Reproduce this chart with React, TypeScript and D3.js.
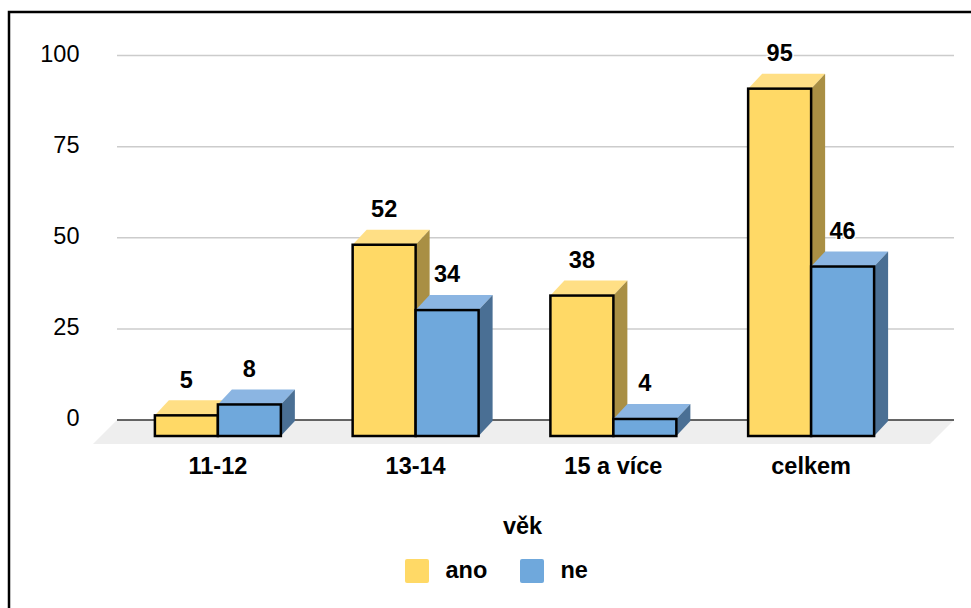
import * as d3 from "d3";

const categories = ["11-12", "13-14", "15 a více", "celkem"];
const seriesNames = ["ano", "ne"];
const anoValues = [5, 52, 38, 95];
const neValues = [8, 34, 4, 46];
const yTicks = [0, 25, 50, 75, 100];

const seriesValues = [anoValues, neValues];
const faceColors = ["#ffd966", "#6fa8dc"];
const topColors = ["#ffdf85", "#8bb5e2"];
const sideColors = ["#a98f44", "#4a6f94"];

const width = 971;
const height = 608;
const depthX = 14;
const depthY = 15;
const baseY = 436;
const fontSize = 23.5;
const font = "'Liberation Sans', Arial, sans-serif";

export default function App() {
  // gridlines sit on the back wall, bars on the front plane
  const yGrid = d3.scaleLinear().domain([0, 100]).range([420, 55.5]);
  const yBar = d3.scaleLinear().domain([0, 100]).range([433.5, 70.5]);

  const x0 = d3
    .scaleBand()
    .domain(categories)
    .range([119, 910])
    .paddingInner(0.363)
    .paddingOuter(0.1815);

  const x1 = d3
    .scaleBand()
    .domain(seriesNames)
    .range([0, x0.bandwidth()]);

  const poly = d3.line();

  return (
    <svg
      width={width}
      height={height}
      style={{ position: "absolute", left: 0, top: 0, background: "#fff", fontFamily: font }}
    >
      {/* outer frame, runs off the page on the right and bottom */}
      <rect x={9} y={12} width={width + 20} height={height + 20} fill="none" stroke="#000" strokeWidth={2.5} />

      {/* floor */}
      <path
        d={poly([[117, 420], [954, 420], [930, 444], [93, 444]]) + "Z"}
        fill="#eeeeee"
      />

      {/* gridlines */}
      {yTicks.map((t) => (
        <g key={t}>
          <line
            x1={117}
            x2={954}
            y1={yGrid(t)}
            y2={yGrid(t)}
            stroke={t === 0 ? "#333333" : "#cccccc"}
            strokeWidth={1.5}
          />
          <text x={79.5} y={yGrid(t) + (t === 0 ? 5.5 : 6.5)} textAnchor="end" fontSize={fontSize} fill="#000">
            {t}
          </text>
        </g>
      ))}

      {/* bars */}
      {categories.map((cat, i) => (
        <g key={cat}>
          {seriesNames.map((name, s) => {
            const left = (x0(cat) || 0) + (x1(name) || 0);
            const right = left + x1.bandwidth();
            const top = yBar(seriesValues[s][i]);
            return (
              <g key={name}>
                <path
                  d={poly([[left, top], [left + depthX, top - depthY], [right + depthX, top - depthY], [right, top]]) + "Z"}
                  fill={topColors[s]}
                />
                <path
                  d={poly([[right, top], [right + depthX, top - depthY], [right + depthX, baseY - depthY], [right, baseY]]) + "Z"}
                  fill={sideColors[s]}
                />
                <rect
                  x={left}
                  y={top}
                  width={x1.bandwidth()}
                  height={baseY - top}
                  fill={faceColors[s]}
                  stroke="#000"
                  strokeWidth={2.5}
                />
              </g>
            );
          })}
        </g>
      ))}

      {/* value labels */}
      {categories.map((cat, i) =>
        seriesNames.map((name, s) => {
          const left = (x0(cat) || 0) + (x1(name) || 0);
          const top = yBar(seriesValues[s][i]);
          return (
            <text
              key={`${cat}-${name}`}
              x={left + x1.bandwidth() / 2}
              y={top - depthY - 12.8}
              textAnchor="middle"
              fontSize={fontSize}
              fontWeight="bold"
              fill="#000"
              stroke="#fff"
              strokeWidth={3}
              paintOrder="stroke"
            >
              {seriesValues[s][i]}
            </text>
          );
        })
      )}

      {/* category labels */}
      {categories.map((cat) => (
        <text
          key={cat}
          x={(x0(cat) || 0) + x0.bandwidth() / 2}
          y={473.5}
          textAnchor="middle"
          fontSize={fontSize}
          fontWeight="bold"
          fill="#000"
        >
          {cat}
        </text>
      ))}

      {/* axis title */}
      <text x={522.5} y={534} textAnchor="middle" fontSize={fontSize} fontWeight="bold" fill="#000">
        věk
      </text>

      {/* legend */}
      {seriesNames.map((name, s) => {
        const lx = s === 0 ? 405 : 520;
        return (
          <g key={name}>
            <rect x={lx} y={559} width={24} height={24} rx={2} fill={faceColors[s]} />
            <text x={lx + 40.5} y={578} fontSize={fontSize} fontWeight="bold" fill="#000">
              {name}
            </text>
          </g>
        );
      })}
    </svg>
  );
}
